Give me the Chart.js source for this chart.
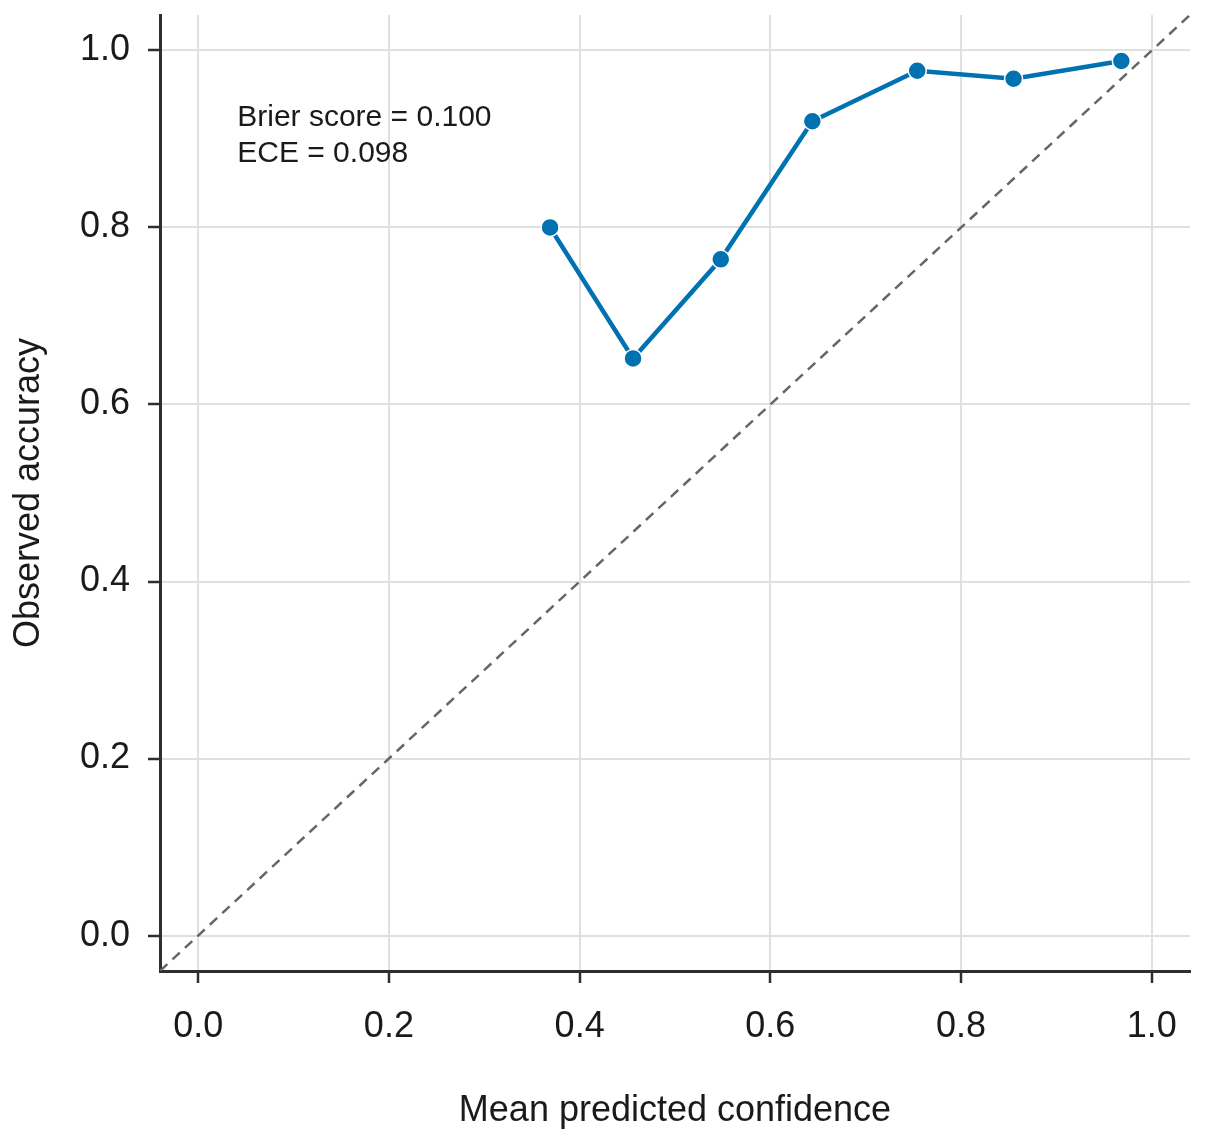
<!DOCTYPE html>
<html>
<head>
<meta charset="utf-8">
<script src="https://cdn.jsdelivr.net/npm/chart.js@4/dist/chart.umd.min.js"></script>
<style>
  html, body { margin: 0; padding: 0; background: #fff; }
  #wrap { width: 1205px; height: 1142px; }
</style>
</head>
<body>
<div id="wrap"><canvas id="calibChart"></canvas></div>
<script>
// reliability diagram data
const confidence = [0.369, 0.456, 0.548, 0.644, 0.754, 0.855, 0.968];
const accuracy = [0.800, 0.652, 0.764, 0.920, 0.977, 0.968, 0.988];
const diagonal = [-0.04, 1.04];
const annotationLines = ['Brier score = 0.100', 'ECE = 0.098'];

const FONT = '"Liberation Sans", Arial, sans-serif';
const textColor = '#1a1a1a';
const axisColor = '#2e2e2e';
const gridColor = '#e0e0e0';

// draws the score box, anchored in data units
const annotationPlugin = {
    id: 'scoreText',
    afterDatasetsDraw(chart, args, opts) {
        const { ctx, scales } = chart;
        const x = scales.x.getPixelForValue(opts.x);
        const y = scales.y.getPixelForValue(opts.y);
        ctx.save();
        ctx.font = '30px ' + FONT;
        ctx.fillStyle = textColor;
        ctx.textAlign = 'left';
        ctx.textBaseline = 'alphabetic';
        annotationLines.forEach((line, i) => ctx.fillText(line, x, y + i * 36));
        ctx.restore();
    }
};

const ctx = document.getElementById('calibChart').getContext('2d');

new Chart(ctx, {
    type: 'scatter',
    data: {
        datasets: [
            {
                label: 'Perfect calibration',
                data: diagonal.map(v => ({ x: v, y: v })),
                showLine: true,
                borderColor: '#666666',
                borderWidth: 2.5,
                borderDash: [10, 7],
                pointRadius: 0,
                order: 2
            },
            {
                label: 'Model',
                data: confidence.map((c, i) => ({ x: c, y: accuracy[i] })),
                showLine: true,
                borderColor: '#0072B2',
                borderWidth: 4.5,
                pointRadius: 9,
                pointHoverRadius: 9,
                pointBackgroundColor: '#0072B2',
                pointBorderColor: '#ffffff',
                pointBorderWidth: 1.5,
                order: 1
            }
        ]
    },
    options: {
        responsive: true,
        maintainAspectRatio: false,
        animation: false,
        layout: { padding: { top: 15, right: 15, left: 0, bottom: 0 } },
        scales: {
            x: {
                type: 'linear',
                min: -0.04,
                max: 1.04,
                afterFit: scale => {
                    scale.height = 171;
                    scale.paddingLeft = 0;
                    scale.paddingRight = 0;
                },
                ticks: {
                    stepSize: 0.2,
                    includeBounds: false,
                    padding: 22,
                    color: textColor,
                    font: { family: FONT, size: 36 },
                    callback: v => v.toFixed(1)
                },
                grid: { color: gridColor, lineWidth: 2, tickColor: axisColor, tickLength: 12, tickWidth: 2.5 },
                border: { display: true, color: axisColor, width: 3 },
                title: {
                    display: true,
                    text: 'Mean predicted confidence',
                    color: textColor,
                    font: { family: FONT, size: 36 },
                    padding: { top: 0, bottom: 9 }
                }
            },
            y: {
                type: 'linear',
                min: -0.04,
                max: 1.04,
                afterFit: scale => {
                    scale.width = 160;
                    scale.paddingTop = 0;
                    scale.paddingBottom = 0;
                },
                ticks: {
                    stepSize: 0.2,
                    includeBounds: false,
                    padding: 18,
                    color: textColor,
                    font: { family: FONT, size: 36 },
                    callback: v => v.toFixed(1)
                },
                grid: { color: gridColor, lineWidth: 2, tickColor: axisColor, tickLength: 12, tickWidth: 2.5 },
                border: { display: true, color: axisColor, width: 3 },
                title: {
                    display: true,
                    text: 'Observed accuracy',
                    color: textColor,
                    font: { family: FONT, size: 36 },
                    padding: { top: 7, bottom: 0 }
                }
            }
        },
        plugins: {
            legend: { display: false },
            tooltip: { enabled: false },
            scoreText: { x: 0.041, y: 0.915 }
        }
    },
    plugins: [annotationPlugin]
});
</script>
</body>
</html>
